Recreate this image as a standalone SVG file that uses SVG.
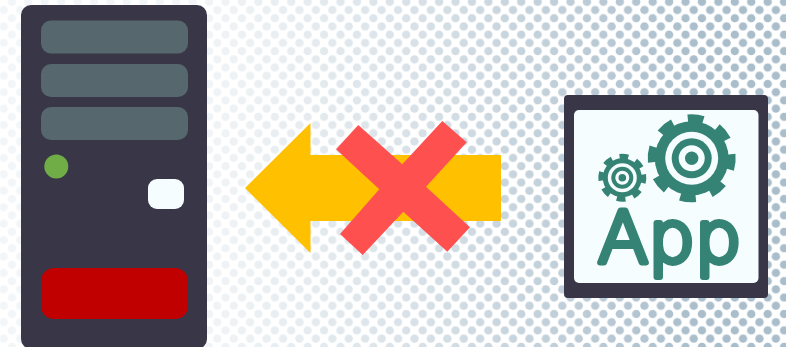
<svg xmlns="http://www.w3.org/2000/svg" width="786" height="347" viewBox="0 0 786 347">
<style>
.case{fill:#393747}
.bay{fill:#56686d}
.teal{fill:#348375}
.paper{fill:#f6fdff}
.teeth{fill:none;stroke:#348375}
.dot{fill:#a9bdcb}
</style>
<defs>
<pattern id="dots" width="16.43" height="16.43" patternUnits="userSpaceOnUse" x="11.9" y="1.8">
<circle class="dot" cx="0" cy="0" r="4.2"/><circle class="dot" cx="16.43" cy="0" r="4.2"/><circle class="dot" cx="0" cy="16.43" r="4.2"/><circle class="dot" cx="16.43" cy="16.43" r="4.2"/><circle class="dot" cx="8.215" cy="8.215" r="4.2"/>
</pattern>
<linearGradient id="fade" gradientUnits="userSpaceOnUse" x1="190" y1="0" x2="700" y2="0">
<stop offset="0" stop-color="#fff" stop-opacity="0.14"/><stop offset="0.4" stop-color="#fff" stop-opacity="0.42"/><stop offset="1" stop-color="#fff" stop-opacity="1"/>
</linearGradient>
<mask id="fadeMask" maskUnits="userSpaceOnUse" x="0" y="0" width="786" height="347"><rect width="786" height="347" fill="url(#fade)"/></mask>
</defs>
<rect width="786" height="347" fill="#fff"/>
<rect id="background-dots" width="786" height="347" fill="url(#dots)" mask="url(#fadeMask)"/>
<g id="server">
<rect class="case" x="21" y="5" width="186" height="344" rx="10"/>
<rect class="bay" x="41" y="20.5" width="147" height="33" rx="10"/>
<rect class="bay" x="41" y="64" width="147" height="33" rx="10"/>
<rect class="bay" x="41" y="107" width="147" height="33" rx="10"/>
<circle cx="56.3" cy="166.6" r="12" fill="#70ad47"/>
<rect class="paper" x="148" y="179" width="36" height="30" rx="9"/>
<rect x="41" y="268" width="147" height="51" rx="13" fill="#c00000"/>
</g>
<g id="connectors">
<polygon points="245,188 310.5,123 310.5,155 501,155 501,221 310.5,221 310.5,253" fill="#ffc000"/>
<polygon points="336,149.3 358.3,125 402.3,164.3 442.3,121 466.7,142.3 426,186.7 470,227.3 447.3,251.7 403.3,211.7 362.7,255 340,234 379.3,189.3" fill="#ff5050"/>
</g>
<g id="app">
<rect class="case" x="564" y="95" width="204" height="203" rx="4"/>
<rect class="paper" x="574" y="110" width="184.500" height="173" rx="5"/>
<circle class="teal" cx="691.700" cy="158.300" r="37"/>
<circle class="teeth" cx="691.700" cy="158.300" r="39.500" stroke-width="9" stroke-dasharray="15.500 15.520" transform="rotate(-6 691.700 158.300)"/>
<circle class="paper" cx="691.700" cy="158.300" r="26.500"/>
<circle class="teal" cx="691.700" cy="158.300" r="20"/>
<circle class="paper" cx="691.700" cy="158.300" r="13"/>
<circle class="teal" cx="691.700" cy="158.300" r="6.700"/>
<circle class="teal" cx="622.300" cy="177.700" r="19.500"/>
<circle class="teeth" cx="622.300" cy="177.700" r="21" stroke-width="6" stroke-dasharray="8.600 7.890" transform="rotate(-9 622.300 177.700)"/>
<circle class="paper" cx="622.300" cy="177.700" r="14.500"/>
<circle class="teal" cx="622.300" cy="177.700" r="11"/>
<circle class="paper" cx="622.300" cy="177.700" r="7"/>
<circle class="teal" cx="622.300" cy="177.700" r="3.800"/>
<text x="598" y="262" font-family="'DejaVu Sans',sans-serif" font-weight="200" font-size="71" fill="#348375" stroke="#348375" stroke-width="6" stroke-linejoin="round" textLength="143.500" lengthAdjust="spacingAndGlyphs">App</text>
</g>
</svg>
